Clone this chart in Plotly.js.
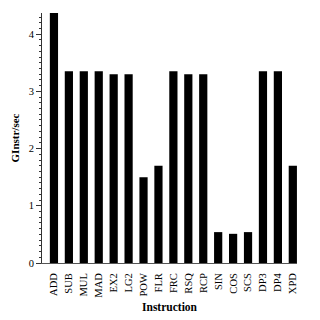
<!DOCTYPE html>
<html>
<head>
<meta charset="utf-8">
<script src="https://cdn.plot.ly/plotly-3.0.1.min.js"></script>
<style>html,body{margin:0;padding:0;background:#fff;}#chart{width:320px;height:320px;}</style>
</head>
<body>
<div id="chart"></div>
<script>
const instructions = ["ADD","SUB","MUL","MAD","EX2","LG2","POW","FLR","FRC","RSQ","RCP","SIN","COS","SCS","DP3","DP4","XPD"];
const ginstrPerSec = [4.37,3.35,3.35,3.35,3.30,3.30,1.50,1.70,3.35,3.30,3.30,0.54,0.51,0.54,3.35,3.35,1.70];

const trace = {
  type: "bar",
  x: instructions.map((_, i) => i),
  y: ginstrPerSec,
  marker: {color: "#000000", line: {width: 0}},
  hoverinfo: "none"
};

const layout = {
  width: 320, height: 320,
  margin: {l: 42, r: 23, t: 13, b: 57},
  paper_bgcolor: "#fff", plot_bgcolor: "#fff",
  showlegend: false,
  bargap: 0.45,
  font: {family: "Liberation Serif, Times New Roman, serif", size: 10, color: "#000"},
  xaxis: {
    range: [-0.8, 16.28],
    tickmode: "array",
    tickvals: instructions.map((_, i) => i),
    ticktext: instructions,
    tickangle: -90,
    ticks: "",
    ticklabelstandoff: 5,
    showgrid: false, zeroline: false,
    showline: true, linecolor: "#555", linewidth: 1,
    tickfont: {size: 10.5},
    title: {text: "<b>Instruction</b>", font: {size: 11.5}, standoff: 6}
  },
  yaxis: {
    range: [0, 4.37],
    tickvals: [0,1,2,3,4],
    ticks: "outside", ticklen: 5, tickwidth: 1, tickcolor: "#333",
    minor: {dtick: 0.1, ticks: "outside", ticklen: 2.5, tickcolor: "#333", showgrid: false},
    showgrid: false, zeroline: false,
    showline: true, linecolor: "#333", linewidth: 1,
    tickfont: {size: 10.5},
    title: {text: "<b>GInstr/sec</b>", font: {size: 11}, standoff: 6}
  }
};

Plotly.newPlot("chart", [trace], layout, {staticPlot: true, displayModeBar: false});
</script>
</body>
</html>
